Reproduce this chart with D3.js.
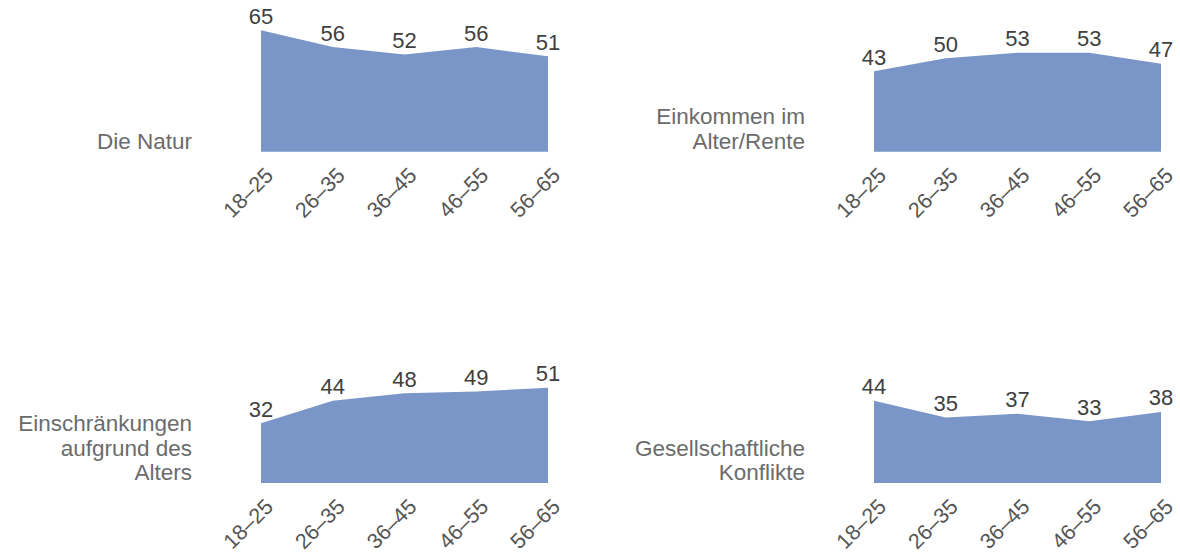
<!DOCTYPE html>
<html>
<head>
<meta charset="utf-8">
<script src="https://cdn.jsdelivr.net/npm/d3@7"></script>
<style>
  body { margin: 0; background: #fff; }
  svg { display: block; font-family: "Liberation Sans", Arial, Helvetica, sans-serif; }
</style>
</head>
<body>
<svg id="chart" width="1180" height="555"></svg>
<script>
const ageGroups = ['18–25', '26–35', '36–45', '46–55', '56–65'];

const natur = [65, 56, 52, 56, 51];
const einkommen = [43, 50, 53, 53, 47];
const einschraenkungen = [32, 44, 48, 49, 51];
const konflikte = [44, 35, 37, 33, 38];

const topicLabels = [
  ['Die Natur'],
  ['Einkommen im', 'Alter/Rente'],
  ['Einschränkungen', 'aufgrund des', 'Alters'],
  ['Gesellschaftliche', 'Konflikte']
];
const topicValues = [natur, einkommen, einschraenkungen, konflikte];

const svg = d3.select('#chart');

// panel geometry: left edge of the area per column, zero line per row
const colX = [261, 874];
const rowZero = [151.7, 483];
const panelW = 287;
const fill = '#7a95c7';

topicValues.forEach((values, i) => {
  const col = i % 2, row = Math.floor(i / 2);
  const x0 = colX[col], base = rowZero[row];

  const x = d3.scalePoint().domain(ageGroups).range([x0, x0 + panelW]);
  const y = d3.scaleLinear().domain([0, 65]).range([base, base - 121.5]);

  const g = svg.append('g');

  const area = d3.area()
    .x((d, j) => x(ageGroups[j]))
    .y0(y(0))
    .y1(d => y(d));

  g.append('path')
    .attr('d', area(values))
    .attr('fill', fill);

  // value labels
  g.selectAll('.val')
    .data(values)
    .join('text')
    .attr('class', 'val')
    .attr('x', (d, j) => x(ageGroups[j]))
    .attr('y', d => y(d) - 6.5)
    .attr('text-anchor', 'middle')
    .attr('font-size', 22)
    .attr('fill', '#404040')
    .text(d => d);

  // rotated x tick labels
  const axis = d3.axisBottom(x).tickSize(0).tickPadding(0);
  const ax = g.append('g')
    .attr('transform', `translate(0,${base})`)
    .call(axis);
  ax.select('.domain').remove();
  ax.selectAll('text')
    .attr('font-size', 21.5)
    .attr('fill', '#555')
    .attr('text-anchor', 'end')
    .attr('dy', null)
    .attr('y', 0)
    .attr('transform', 'translate(13,25) rotate(-45)');

  // topic label, right aligned, last line on the zero line
  const lines = topicLabels[i];
  const lineH = 24.5;
  g.append('text')
    .attr('text-anchor', 'end')
    .attr('font-size', 22.5)
    .attr('fill', '#6b6b6b')
    .selectAll('tspan')
    .data(lines)
    .join('tspan')
    .attr('x', x0 - 69)
    .attr('y', (d, k) => base - 3 - (lines.length - 1 - k) * lineH)
    .text(d => d);
});
</script>
</body>
</html>
